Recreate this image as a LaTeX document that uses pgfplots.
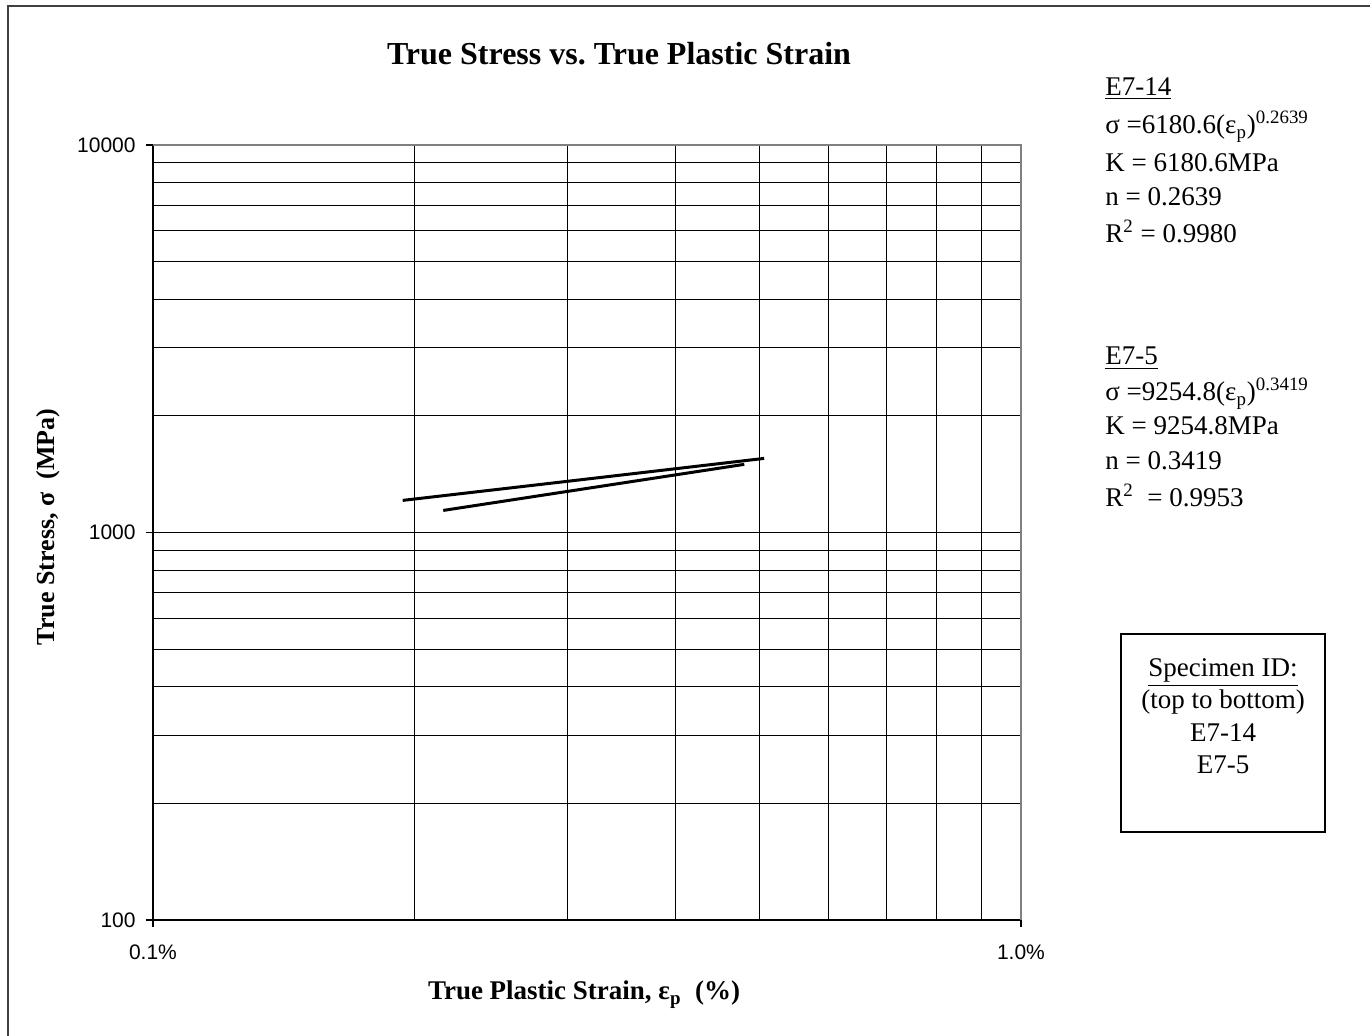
\documentclass[border=0pt]{standalone}
\usepackage{fontspec}
\setmainfont{Liberation Serif}
\setsansfont{Liberation Sans}
\usepackage{pgfplots}
\pgfplotsset{compat=1.18}
\frenchspacing
\begin{document}
\begin{tikzpicture}
\useasboundingbox (-76.5pt,-58pt) rectangle (608.5pt,460pt);
\begin{axis}[
  name=ax,
  at={(0pt,0pt)}, anchor=south west,
  scale only axis, width=434pt, height=387.5pt,
  xmode=log, ymode=log,
  xmin=0.001, xmax=0.01, ymin=100, ymax=10000,
  xtick={0.001,0.01}, xticklabels={0.1\%,1.0\%},
  ytick={100,1000,10000}, yticklabels={100,1000,10000},
  minor xtick={0.002,0.003,0.004,0.005,0.006,0.007,0.008,0.009},
  minor ytick={200,300,400,500,600,700,800,900,2000,3000,4000,5000,6000,7000,8000,9000},
  grid=both,
  major grid style={black, line width=0.5pt},
  minor grid style={black, line width=0.5pt},
  axis line style={draw=none},
  tick align=outside, major tick length=3.5pt, minor tick length=0pt,
  xtick pos=lower, ytick pos=left,
  tick style={black, line width=0.8pt},
  ticklabel style={font=\sffamily\fontsize{10.5}{12}\selectfont},
  xticklabel style={anchor=north, inner sep=0pt, yshift=-9pt},
  yticklabel style={anchor=east, inner sep=0pt, xshift=-5pt},
  clip=false,
]
\addplot[black, line width=1.5pt] coordinates {(0.00194,1210) (0.003,1355) (0.00506,1553)};
\addplot[black, line width=1.5pt] coordinates {(0.00216,1140) (0.003,1276) (0.00480,1499)};
\end{axis}
\draw[black, line width=1pt] (ax.north west) -- (ax.south west) -- (ax.south east);
\draw[gray, line width=1pt] (ax.north west) -- (ax.north east) -- (ax.south east);
% outer frame
\draw[black!75, line width=1pt] (-72.5pt,-60pt) -- (-72.5pt,457pt) -- (610pt,457pt);
% title and axis labels
\node[anchor=base, inner sep=0pt, font=\bfseries\fontsize{16}{19}\selectfont] at (233pt,427.5pt) {True Stress vs. True Plastic Strain};
\node[anchor=base, inner sep=0pt, font=\bfseries\fontsize{13.5}{16}\selectfont] at (215.5pt,-40pt) {True Plastic Strain, ε\textsubscript{p}~~(\%)};
\node[anchor=base, rotate=90, inner sep=0pt, font=\bfseries\fontsize{13}{16}\selectfont] at (-49pt,196.5pt) {True Stress, σ~~(MPa)};
% fit blocks
\begin{scope}[every node/.style={anchor=base west, inner sep=0pt, font=\fontsize{13.5}{16}\selectfont}]
\node at (476pt,412pt) {\underline{E7-14}};
\node at (476pt,393pt) {σ =6180.6(ε\textsubscript{p})\textsuperscript{0.2639}};
\node at (476pt,374pt) {K = 6180.6MPa};
\node at (476pt,357pt) {n = 0.2639};
\node at (476pt,338.5pt) {R\textsuperscript{2} = 0.9980};
\node at (476pt,277.5pt) {\underline{E7-5}};
\node at (476pt,259.5pt) {σ =9254.8(ε\textsubscript{p})\textsuperscript{0.3419}};
\node at (476pt,242.5pt) {K = 9254.8MPa};
\node at (476pt,225pt) {n = 0.3419};
\node at (476pt,206.5pt) {R\textsuperscript{2}~ = 0.9953};
\end{scope}
% specimen box
\draw[black, line width=0.8pt] (484pt,44pt) rectangle (586pt,143pt);
\begin{scope}[every node/.style={anchor=base, inner sep=0pt, font=\fontsize{13.5}{16}\selectfont}]
\node at (535pt,121.5pt) {\underline{Specimen ID:}};
\node at (535pt,105.5pt) {(top to bottom)};
\node at (535pt,89pt) {E7-14};
\node at (535pt,73pt) {E7-5};
\end{scope}
\end{tikzpicture}
\end{document}
